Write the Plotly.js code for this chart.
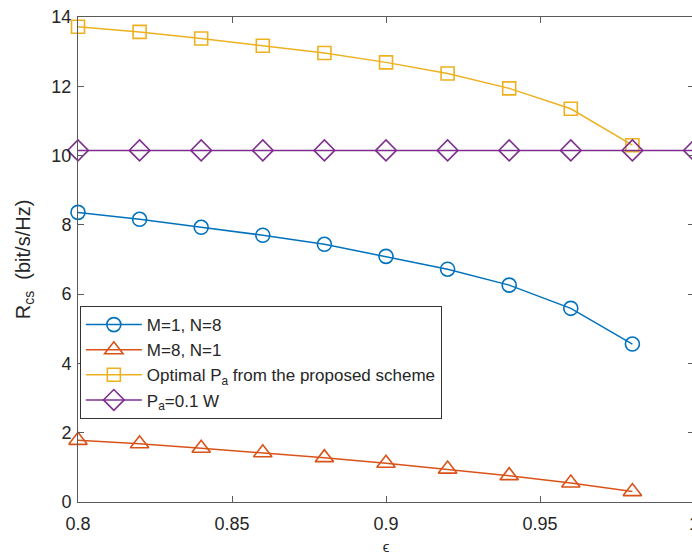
<!DOCTYPE html>
<html>
<head>
<meta charset="utf-8">
<script src="https://cdn.plot.ly/plotly-3.0.1.min.js"></script>
<style>
  html, body { margin: 0; padding: 0; overflow: hidden; background: #fff; }
  #chart { width: 720px; height: 560px; }
</style>
</head>
<body>
<div id="chart"></div>
<script>
// Secrecy rate versus epsilon for the compared configurations
const epsA = [0.8, 0.82, 0.84, 0.86, 0.88, 0.9, 0.92, 0.94, 0.96, 0.98];
const epsB = [0.8, 0.82, 0.84, 0.86, 0.88, 0.9, 0.92, 0.94, 0.96, 0.98, 1.0];

const rM1N8   = [8.36, 8.16, 7.93, 7.70, 7.44, 7.09, 6.72, 6.26, 5.59, 4.56];
const rM8N1   = [1.78, 1.68, 1.55, 1.42, 1.28, 1.12, 0.95, 0.76, 0.55, 0.30];
const rOptPa  = [13.72, 13.57, 13.38, 13.17, 12.96, 12.69, 12.37, 11.94, 11.35, 10.30];
const rFixPa  = [10.15, 10.15, 10.15, 10.15, 10.15, 10.15, 10.15, 10.15, 10.15, 10.15, 10.15];

const names = ['M=1, N=8', 'M=8, N=1', 'Optimal P<sub>a</sub> from the proposed scheme', 'P<sub>a</sub>=0.1 W'];
const xTicks = [0.8, 0.85, 0.9, 0.95, 1];
const xTickText = ['0.8', '0.85', '0.9', '0.95', '1'];
const yTicks = [0, 2, 4, 6, 8, 10, 12, 14];

const colors = ['#0072BD', '#D95319', '#EDB120', '#7E2F8E'];
const FONT = 'Liberation Sans, Arial, Helvetica, sans-serif';

function series(x, y, i, symbol, size) {
  return {
    x: x, y: y, name: names[i], type: 'scatter', mode: 'lines+markers',
    line: { color: colors[i], width: 1.5 },
    marker: { symbol: symbol, size: size, color: colors[i],
              line: { color: colors[i], width: 1.6 } },
    cliponaxis: false
  };
}

const data = [
  series(epsA, rM1N8, 0, 'circle-open', 14),
  series(epsA, rM8N1, 1, 'triangle-up-open', 16),
  series(epsA, rOptPa, 2, 'square-open', 13),
  series(epsB, rFixPa, 3, 'diamond-open', 16)
];

const axisCommon = {
  showline: true, linecolor: '#5a5a5a', linewidth: 1, mirror: 'ticks',
  ticks: 'inside', ticklen: 6, tickcolor: '#5a5a5a', tickwidth: 1,
  showgrid: false, zeroline: false,
  tickfont: { family: FONT, size: 18, color: '#262626' }
};

const layout = {
  width: 720, height: 560,
  margin: { l: 78, r: 26, t: 17, b: 58 },
  paper_bgcolor: '#fff', plot_bgcolor: '#fff',
  showlegend: true,
  xaxis: Object.assign({}, axisCommon, {
    range: [0.8, 1], tickvals: xTicks, ticktext: xTickText,
    ticklabelstandoff: 5,
    title: { text: 'ϵ', standoff: 8,
             font: { family: FONT, size: 15, color: '#262626' } }
  }),
  yaxis: Object.assign({}, axisCommon, {
    range: [0, 14], tickvals: yTicks, ticklabelstandoff: 2,
    title: { text: 'R<sub>cs</sub>  (bit/s/Hz)', standoff: 15,
             font: { family: FONT, size: 20, color: '#262626' } }
  }),
  legend: {
    x: 0.003, y: 0.404, xanchor: 'left', yanchor: 'top',
    bgcolor: '#fff', bordercolor: '#333', borderwidth: 1,
    font: { family: FONT, size: 17, color: '#262626' },
    itemwidth: 56, tracegroupgap: 0
  }
};

Plotly.newPlot('chart', data, layout, { displayModeBar: false, staticPlot: true });
</script>
</body>
</html>
